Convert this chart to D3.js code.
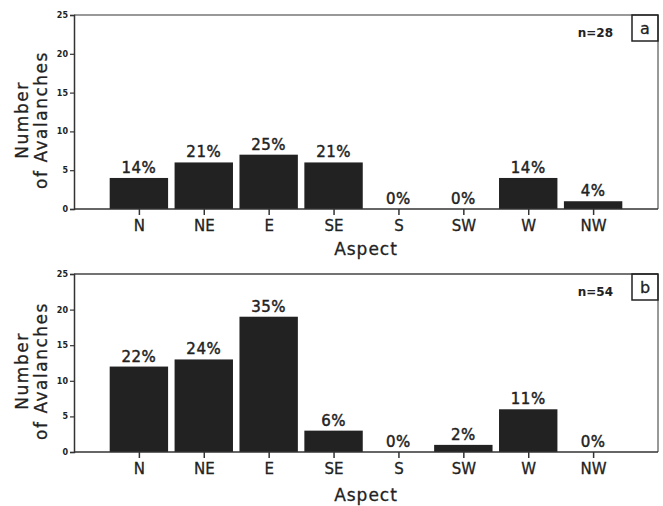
<!DOCTYPE html>
<html>
<head>
<meta charset="utf-8">
<script src="https://cdn.jsdelivr.net/npm/d3@7"></script>
<style>
  body { margin: 0; background: #fff; }
  text { font-family: "DejaVu Sans", sans-serif; fill: #222; }
</style>
</head>
<body>
<svg id="chart" width="663" height="506"></svg>
<script>
// Avalanche counts by slope aspect, two samples
const aspects = ["N", "NE", "E", "SE", "S", "SW", "W", "NW"];
const countsA = [4, 6, 7, 6, 0, 0, 4, 1];
const countsB = [12, 13, 19, 3, 0, 1, 6, 0];
const percentA = ["14%", "21%", "25%", "21%", "0%", "0%", "14%", "4%"];
const percentB = ["22%", "24%", "35%", "6%", "0%", "2%", "11%", "0%"];
const yTicks = [0, 5, 10, 15, 20, 25];
const panelLetters = ["a", "b"];
const sampleSizes = ["n=28", "n=54"];

const svg = d3.select("#chart");
const ink = "#222";

const panels = [
  { counts: countsA, pct: percentA, letter: panelLetters[0], n: sampleSizes[0],
    top: 15, bottom: 209, titleOffset: 46, topStroke: "#777" },
  { counts: countsB, pct: percentB, letter: panelLetters[1], n: sampleSizes[1],
    top: 274, bottom: 452, titleOffset: 49, topStroke: "#444" }
];
const left = 74, right = 658;

const x = d3.scalePoint().domain(aspects).range([left, right]).padding(1);
const barW = x.step() * 0.9;

panels.forEach(p => {
  const g = svg.append("g");
  const y = d3.scaleLinear().domain([0, 25]).range([p.bottom, p.top]);

  // bars
  g.selectAll("rect.bar")
    .data(aspects)
    .join("rect")
    .attr("class", "bar")
    .attr("x", d => x(d) - barW / 2)
    .attr("width", barW)
    .attr("y", (d, i) => y(p.counts[i]))
    .attr("height", (d, i) => y(0) - y(p.counts[i]))
    .attr("fill", ink);

  // percentage labels over bars
  g.selectAll("text.pct")
    .data(aspects)
    .join("text")
    .attr("class", "pct")
    .attr("x", d => x(d))
    .attr("y", (d, i) => y(p.counts[i]) - 5)
    .attr("text-anchor", "middle")
    .attr("font-size", 15)
    .attr("letter-spacing", 0.5)
    .attr("stroke", ink).attr("stroke-width", 0.45)
    .text((d, i) => p.pct[i]);

  // frame: top and right borders
  g.append("line").attr("x1", left).attr("x2", right).attr("y1", p.top).attr("y2", p.top)
    .attr("stroke", p.topStroke).attr("stroke-width", 1.5);
  g.append("line").attr("x1", right).attr("x2", right).attr("y1", p.top).attr("y2", p.bottom)
    .attr("stroke", "#333").attr("stroke-width", 1);

  // y axis
  const yAxis = g.append("g")
    .attr("transform", `translate(${left},0)`)
    .call(d3.axisLeft(y).tickValues(yTicks).tickSize(4).tickPadding(2));
  yAxis.select(".domain").attr("stroke", "#333").attr("stroke-width", 1.5);
  yAxis.selectAll(".tick line").attr("stroke", "#333").attr("stroke-width", 1.2);
  yAxis.selectAll(".tick text")
    .attr("font-family", "DejaVu Sans, sans-serif")
    .attr("font-size", 8).attr("font-weight", "bold").attr("fill", ink);

  // x axis
  const xAxis = g.append("g")
    .attr("transform", `translate(0,${p.bottom})`)
    .call(d3.axisBottom(x).tickSize(6).tickPadding(5).tickSizeOuter(0));
  xAxis.select(".domain").attr("stroke", "#333").attr("stroke-width", 1.5)
    .attr("d", `M${left},0H${right}`);
  xAxis.selectAll(".tick line").attr("stroke", "#333").attr("stroke-width", 1.5);
  xAxis.selectAll(".tick text")
    .attr("font-family", "DejaVu Sans, sans-serif")
    .attr("font-size", 15).attr("fill", ink)
    .attr("stroke", ink).attr("stroke-width", 0.3);

  // x axis title
  g.append("text")
    .attr("x", (left + right) / 2)
    .attr("y", p.bottom + p.titleOffset)
    .attr("text-anchor", "middle")
    .attr("font-size", 17)
    .attr("letter-spacing", 1)
    .attr("stroke", ink).attr("stroke-width", 0.3)
    .text("Aspect");

  // y axis title, two lines
  const mid = (p.top + p.bottom) / 2 + 8;
  const yt = g.append("text")
    .attr("transform", `translate(28,${mid}) rotate(-90)`)
    .attr("text-anchor", "middle")
    .attr("font-size", 17)
    .attr("letter-spacing", 1.5)
    .attr("stroke", ink).attr("stroke-width", 0.3);
  yt.append("tspan").attr("x", 0).attr("dy", 0).text("Number");
  yt.append("tspan").attr("x", 0).attr("dy", 19).text("of Avalanches");

  // sample size
  g.append("text")
    .attr("x", 613).attr("y", p.top + 21.5)
    .attr("text-anchor", "end")
    .attr("font-size", 12).attr("font-weight", "bold")
    .text(p.n);

  // panel letter box
  g.append("rect")
    .attr("x", 632).attr("y", p.top).attr("width", 26).attr("height", 26)
    .attr("fill", "none").attr("stroke", ink).attr("stroke-width", 1.5);
  g.append("text")
    .attr("x", 645).attr("y", p.top + 18.5)
    .attr("text-anchor", "middle")
    .attr("font-size", 16)
    .attr("stroke", ink).attr("stroke-width", 0.3)
    .text(p.letter);
});
</script>
</body>
</html>
